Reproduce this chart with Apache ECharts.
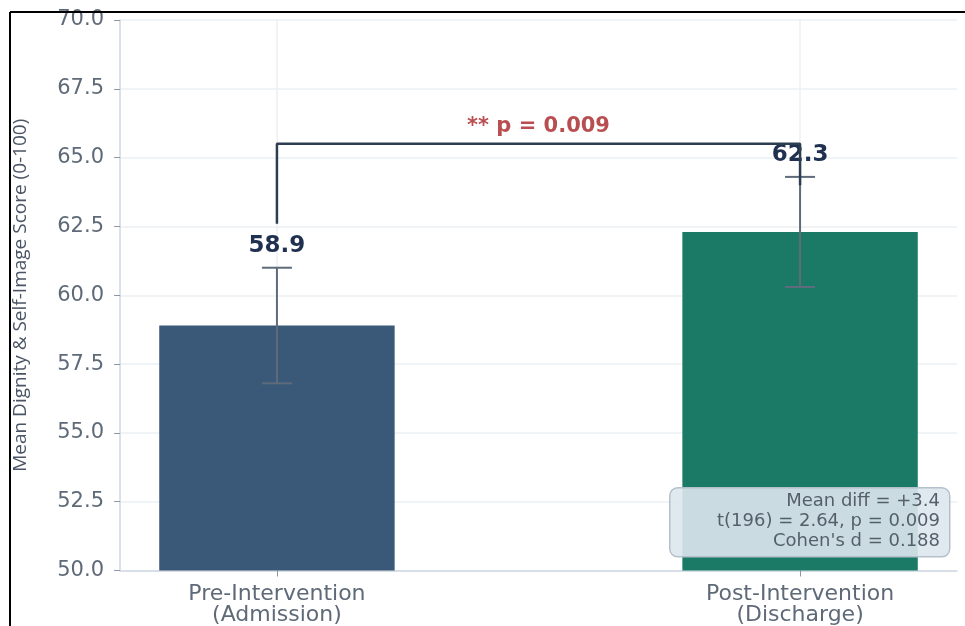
<!DOCTYPE html>
<html>
<head>
<meta charset="utf-8">
<script src="https://cdn.jsdelivr.net/npm/echarts@6/dist/echarts.min.js"></script>
<style>
  html, body { margin: 0; padding: 0; background: #fff; }
  #chart { width: 965px; height: 626px; }
</style>
</head>
<body>
<div id="chart"></div>
<script>
// data
const categories = ['Pre-Intervention\n(Admission)', 'Post-Intervention\n(Discharge)']
const means = [58.9, 62.3]
const errors = [2.1, 2.0]
const barColors = ['#3a5877', '#1b7a66']
const bracketLevel = 65.5
const bracketLegs = [62.6, 64.0]
const sigText = '** p = 0.009'
const sigLevel = 66.2
const statsLines = ['Mean diff = +3.4', 't(196) = 2.64, p = 0.009', "Cohen's d = 0.188"]

const myChart = echarts.init(document.getElementById('chart'))

const barData = means.map((m, i) => [i, m])
const errData = means.map((m, i) => [i, m, errors[i]])

myChart.setOption({
  animation: false,
  textStyle: { fontFamily: 'DejaVu Sans' },
  grid: { left: 120, right: 8, top: 20, bottom: 54 },
  xAxis: {
    type: 'value',
    min: -0.3,
    max: 1.3,
    axisLine: { show: true, onZero: false, lineStyle: { color: '#cfd6df', width: 1.5 } },
    axisTick: { show: true, customValues: [0, 1], length: 6, lineStyle: { color: '#8e98a4' } },
    axisLabel: {
      customValues: [0, 1],
      formatter: v => categories[Math.round(v)],
      color: '#5f6a78',
      fontSize: 22,
      lineHeight: 21,
      margin: 13
    },
    splitLine: { show: true, lineStyle: { color: '#edf0f5', width: 1.5 } }
  },
  yAxis: {
    type: 'value',
    min: 50,
    max: 70,
    interval: 2.5,
    name: 'Mean Dignity & Self-Image Score (0-100)',
    nameLocation: 'middle',
    nameGap: 90,
    nameTextStyle: { fontFamily: 'Open Sans', fontSize: 19, color: '#4b5565' },
    axisLine: { show: true, onZero: false, lineStyle: { color: '#cfd6df', width: 1.5 } },
    axisTick: { show: true, length: 6, lineStyle: { color: '#8e98a4' } },
    axisLabel: { formatter: v => v.toFixed(1), color: '#5f6a78', fontSize: 21, margin: 16 },
    splitLine: { show: true, lineStyle: { color: '#edf0f5', width: 1.5 } }
  },
  series: [
    {
      name: 'bars',
      type: 'custom',
      z: 2,
      data: barData,
      renderItem: (params, api) => {
        const x = api.value(0)
        const y = api.value(1)
        const p1 = api.coord([x - 0.225, y])
        const p2 = api.coord([x + 0.225, 50])
        return {
          type: 'rect',
          shape: { x: p1[0], y: p1[1], width: p2[0] - p1[0], height: p2[1] - p1[1] },
          style: { fill: barColors[params.dataIndex] }
        }
      }
    },
    {
      name: 'errors',
      type: 'custom',
      z: 3,
      data: errData,
      renderItem: (params, api) => {
        const x = api.value(0)
        const m = api.value(1)
        const e = api.value(2)
        const top = api.coord([x, m + e])
        const bot = api.coord([x, m - e])
        const stroke = { stroke: '#5e6b7b', lineWidth: 2 }
        return {
          type: 'group',
          children: [
            { type: 'line', shape: { x1: top[0], y1: top[1], x2: bot[0], y2: bot[1] }, style: stroke },
            { type: 'line', shape: { x1: top[0] - 15, y1: top[1], x2: top[0] + 15, y2: top[1] }, style: stroke },
            { type: 'line', shape: { x1: bot[0] - 15, y1: bot[1], x2: bot[0] + 15, y2: bot[1] }, style: stroke },
            {
              type: 'text',
              x: top[0],
              y: top[1] - 22,
              style: {
                text: m.toFixed(1),
                fill: '#1f3050',
                font: 'bold 23px "DejaVu Sans"',
                align: 'center',
                verticalAlign: 'middle'
              }
            }
          ]
        }
      }
    },
    {
      name: 'bracket',
      type: 'line',
      z: 4,
      symbol: 'none',
      silent: true,
      lineStyle: { color: '#2c3e50', width: 2.5 },
      data: [[0, bracketLegs[0]], [0, bracketLevel], [1, bracketLevel], [1, bracketLegs[1]]]
    },
    {
      name: 'sig',
      type: 'scatter',
      z: 5,
      symbolSize: 0,
      silent: true,
      data: [[0.5, sigLevel]],
      label: {
        show: true,
        position: 'inside',
        offset: [0, 2],
        formatter: sigText,
        color: '#a82226',
        fontWeight: 'bold',
        fontSize: 21
      }
    }
  ],
  graphic: [
    {
      type: 'rect',
      left: 669,
      top: 487,
      z: 10,
      shape: { width: 280, height: 69, r: 8 },
      style: { fill: 'rgba(222,231,238,0.9)', stroke: '#b4c0cb', lineWidth: 1.5 }
    },
    {
      type: 'text',
      x: 940,
      y: 491,
      z: 11,
      style: {
        text: statsLines.join('\n'),
        align: 'right',
        fill: '#555f6b',
        font: '18px "DejaVu Sans"',
        lineHeight: 20
      }
    },
    {
      type: 'line',
      z: 20,
      shape: { x1: 10, y1: 12, x2: 965, y2: 12 },
      style: { stroke: '#000', lineWidth: 2 }
    },
    {
      type: 'line',
      z: 20,
      shape: { x1: 10, y1: 12, x2: 10, y2: 626 },
      style: { stroke: '#000', lineWidth: 2 }
    }
  ]
})
</script>
</body>
</html>
